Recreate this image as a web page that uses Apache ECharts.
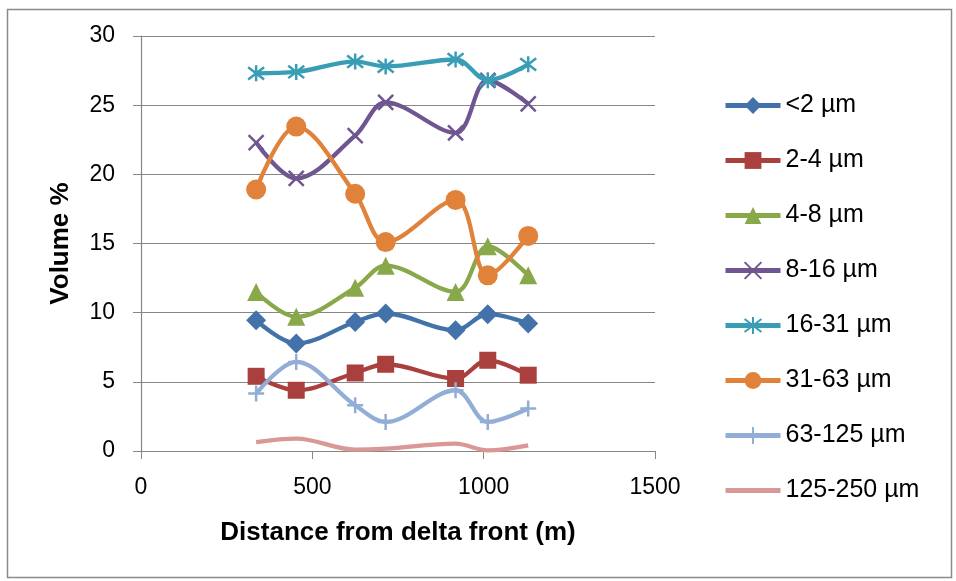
<!DOCTYPE html>
<html><head><meta charset="utf-8">
<script src="https://cdn.jsdelivr.net/npm/echarts@6/dist/echarts.min.js"></script>
<style>html,body{margin:0;padding:0;background:#fff}#c{width:956px;height:581px}</style>
</head><body><div id="c"></div>
<script>
const distance = [336, 453, 625, 714, 918, 1012, 1130];
const seriesNames = ['<2 µm','2-4 µm','4-8 µm','8-16 µm','16-31 µm','31-63 µm','63-125 µm','125-250 µm'];
const clay = [9.46, 7.77, 9.33, 9.94, 8.73, 9.89, 9.22];
const s2_4 = [5.4, 4.39, 5.64, 6.27, 5.24, 6.56, 5.48];
const s4_8 = [11.5, 9.7, 11.8, 13.4, 11.5, 14.8, 12.7];
const s8_16 = [22.3, 19.7, 22.8, 25.2, 23.0, 26.8, 25.1];
const s16_31 = [27.3, 27.4, 28.15, 27.8, 28.3, 26.8, 27.95];
const s31_63 = [18.9, 23.45, 18.6, 15.1, 18.15, 12.7, 15.55];
const s63_125 = [4.15, 6.44, 3.31, 2.1, 4.39, 2.1, 3.07];
const s125_250 = [0.65, 0.9, 0.1, 0.17, 0.54, 0.05, 0.41];
const yTicks = [0, 5, 10, 15, 20, 25, 30];
const xTicks = [0, 500, 1000, 1500];

const FONT = "'Liberation Sans', Arial, sans-serif";
const colors = ['#4372AA','#AA403D','#88A84A','#6F5690','#3A9DB6','#E0823A','#93AED6','#D99795'];
const valuesList = [clay, s2_4, s4_8, s8_16, s16_31, s31_63, s63_125, s125_250];
const xPath = 'path://M0,0L10,10M10,0L0,10';
const starPath = 'path://M0,0L10,10M10,0L0,10M5,-1.5L5,11.5';
const plusPath = 'path://M5,0L5,10M0,5L10,5';
const symbols = ['diamond','rect','triangle',xPath,starPath,'circle',plusPath,'none'];
const sizes = [20,17,18,15,16,20,16,0];
const stroked = [false,false,false,true,true,false,true,false];

const series = valuesList.map((vals, i) => ({
  name: seriesNames[i],
  type: 'line',
  smooth: 0.35,
  data: distance.map((d, j) => [d, vals[j]]),
  symbol: symbols[i],
  symbolSize: sizes[i],
  showSymbol: symbols[i] !== 'none',
  lineStyle: { color: colors[i], width: 4.3 },
  itemStyle: stroked[i]
    ? { color: colors[i], borderColor: colors[i], borderWidth: 2.5 }
    : { color: colors[i] },
  emphasis: { disabled: true },
  z: 2 + i
}));

const legendData = seriesNames.map((n, i) => symbols[i] === 'none'
  ? { name: n, itemStyle: { color: 'rgba(0,0,0,0)', borderColor: 'rgba(0,0,0,0)' } }
  : { name: n });

const chart = echarts.init(document.getElementById('c'));
chart.setOption({
  animation: false,
  backgroundColor: '#fff',
  graphic: [{
    type: 'rect', left: 5, top: 7, shape: { width: 944, height: 568 },
    style: { fill: 'none', stroke: '#8a8a8a', lineWidth: 1.5 }, silent: true
  }],
  grid: { left: 141, right: 301, top: 36, bottom: 130 },
  xAxis: {
    type: 'value', min: xTicks[0], max: xTicks[xTicks.length - 1], interval: 500,
    name: 'Distance from delta front (m)', nameLocation: 'middle', nameGap: 69,
    nameTextStyle: { fontFamily: FONT, fontSize: 26, fontWeight: 'bold', color: '#000' },
    axisLine: { lineStyle: { color: '#868686', width: 1.2 } },
    axisTick: { show: true, length: 8, lineStyle: { color: '#868686' } },
    axisLabel: { fontFamily: FONT, fontSize: 23, color: '#000', margin: 25, formatter: v => String(v) },
    splitLine: { show: false }
  },
  yAxis: {
    type: 'value', min: yTicks[0], max: yTicks[yTicks.length - 1], interval: 5,
    name: 'Volume %', nameLocation: 'middle', nameGap: 67, nameRotate: 90,
    nameTextStyle: { fontFamily: FONT, fontSize: 26, fontWeight: 'bold', color: '#000' },
    axisLine: { show: true, lineStyle: { color: '#868686', width: 1.2 } },
    axisTick: { show: true, length: 8, lineStyle: { color: '#868686' } },
    axisLabel: { fontFamily: FONT, fontSize: 23, color: '#000', margin: 26, formatter: v => String(v) },
    splitLine: { lineStyle: { color: '#868686', width: 1.2 } }
  },
  legend: {
    orient: 'vertical', left: 723, top: 93, padding: 0,
    itemWidth: 55, itemHeight: 21, itemGap: 30,
    lineStyle: { width: 5 },
    textStyle: { fontFamily: FONT, fontSize: 25, color: '#000' },
    data: legendData
  },
  series: series
});
</script></body></html>
